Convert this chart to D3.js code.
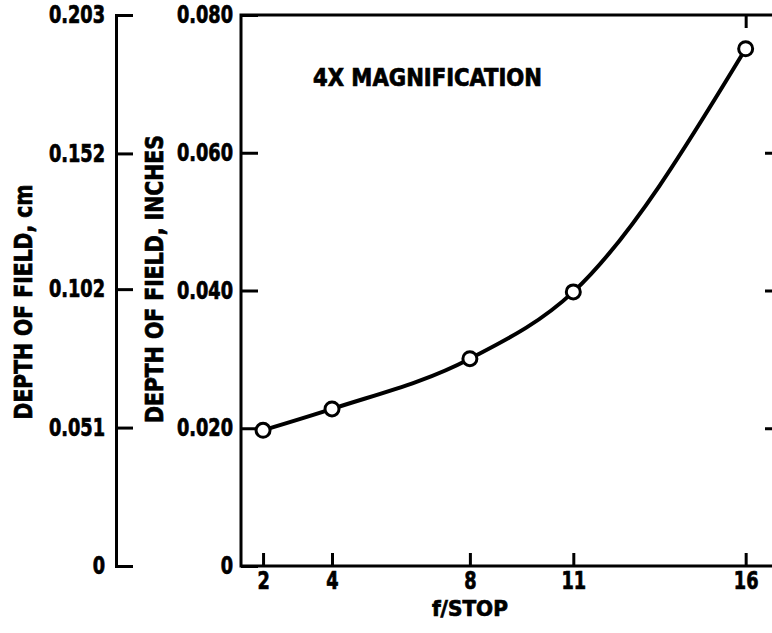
<!DOCTYPE html>
<html>
<head>
<meta charset="utf-8">
<script src="https://cdn.jsdelivr.net/npm/d3@7"></script>
<style>
  body { margin: 0; background: #fff; }
  svg text { font-family: 'DejaVu Sans Condensed', 'Liberation Sans Narrow', sans-serif; font-weight: bold; fill: #000; stroke: #000; stroke-width: 0.7px; }
</style>
</head>
<body>
<div class="content"></div>
<script>
var fStops = [2, 4, 8, 11, 16];
var depthInches = [0.0197, 0.0228, 0.0301, 0.0398, 0.0751];
var inchTicks = [0, 0.020, 0.040, 0.060, 0.080];
var cmTicks = [0, 0.051, 0.102, 0.152, 0.203];
var title = '4X MAGNIFICATION';

var chart = {
    width: 772,
    height: 633,
    top: 15,
    bottom: 566,
    cmAxisX: 116,
    left: 241,
    right: 776,
    stroke: '#000',
    lineWidth: 3,
    squeeze: 0.82
};

var svg = d3.select('.content').append('svg')
    .attr('width', chart.width)
    .attr('height', chart.height);

var x = d3.scaleLinear().domain([1.36, 16.88]).range([chart.left, chart.right]);
var yIn = d3.scaleLinear().domain([0, 0.080]).range([chart.bottom, chart.top]);
var yCm = d3.scaleLinear().domain([0, 0.203]).range([chart.bottom, chart.top]);

function fmt(d) { return d === 0 ? '0' : d.toFixed(3); }

function styleAxis(g, size) {
    g.selectAll('path, line')
        .attr('stroke', chart.stroke)
        .attr('stroke-width', chart.lineWidth);
    g.selectAll('text')
        .style('font-size', size + 'px')
        .attr('fill', '#000');
}

// cm axis (far left)
svg.append('g')
    .attr('transform', 'translate(' + chart.cmAxisX + ',0)')
    .call(d3.axisLeft(yCm).tickValues(cmTicks).tickFormat(fmt)
        .tickSizeInner(-17).tickSizeOuter(-17).tickPadding(11))
    .call(function(g) { styleAxis(g, 24); });

// frame of the main plot
svg.append('path')
    .attr('d', 'M' + chart.right + ',' + chart.top + 'H' + chart.left + 'V' + chart.bottom + 'H' + chart.right)
    .attr('fill', 'none')
    .attr('stroke', chart.stroke)
    .attr('stroke-width', chart.lineWidth);

// inches axis
svg.append('g')
    .attr('transform', 'translate(' + chart.left + ',0)')
    .call(d3.axisLeft(yIn).tickValues(inchTicks).tickFormat(fmt)
        .tickSizeInner(-17).tickSizeOuter(0).tickPadding(8))
    .call(function(g) { g.select('.domain').remove(); styleAxis(g, 24); });

// right-hand ticks
svg.append('g')
    .attr('transform', 'translate(' + chart.right + ',0)')
    .call(d3.axisRight(yIn).tickValues([0.020, 0.040, 0.060]).tickFormat('')
        .tickSizeInner(-11).tickSizeOuter(0))
    .call(function(g) { g.select('.domain').remove(); styleAxis(g, 24); });

// f/stop axis
svg.append('g')
    .attr('transform', 'translate(0,' + chart.bottom + ')')
    .call(d3.axisBottom(x).tickValues(fStops).tickFormat(d3.format('d'))
        .tickSizeInner(-13).tickSizeOuter(0).tickPadding(6))
    .call(function(g) { g.select('.domain').remove(); styleAxis(g, 24); });

svg.append('g')
    .attr('transform', 'translate(0,' + chart.top + ')')
    .call(d3.axisTop(x).tickValues([16]).tickFormat('')
        .tickSizeInner(-13).tickSizeOuter(0))
    .call(function(g) { g.select('.domain').remove(); styleAxis(g, 24); });

// axis titles
svg.append('text')
    .attr('transform', 'translate(32,302) rotate(-90)')
    .attr('text-anchor', 'middle')
    .attr('textLength', 235)
    .attr('lengthAdjust', 'spacingAndGlyphs')
    .style('font-size', '25px')
    .text('DEPTH OF FIELD, cm');

svg.append('text')
    .attr('transform', 'translate(163,279) rotate(-90)')
    .attr('text-anchor', 'middle')
    .attr('textLength', 288)
    .attr('lengthAdjust', 'spacingAndGlyphs')
    .style('font-size', '25px')
    .text('DEPTH OF FIELD, INCHES');

svg.append('text')
    .attr('x', x(8))
    .attr('y', 616)
    .attr('text-anchor', 'middle')
    .attr('textLength', 76)
    .attr('lengthAdjust', 'spacingAndGlyphs')
    .style('font-size', '21px')
    .text('f/STOP');

svg.append('text')
    .attr('x', 313)
    .attr('y', 86)
    .attr('textLength', 229)
    .attr('lengthAdjust', 'spacingAndGlyphs')
    .style('font-size', '24px')
    .text(title);

// narrow the remaining labels to the condensed look of the original
svg.selectAll('text').each(function() {
    if (this.getAttribute('textLength')) return;
    var len = this.getComputedTextLength();
    d3.select(this)
        .attr('textLength', len * chart.squeeze)
        .attr('lengthAdjust', 'spacingAndGlyphs');
});

// data curve
var data = fStops.map(function(f, i) { return { f: f, d: depthInches[i] }; });

var line = d3.line()
    .x(function(d) { return x(d.f); })
    .y(function(d) { return yIn(d.d); })
    .curve(d3.curveMonotoneX);

svg.append('path')
    .datum(data)
    .attr('d', line)
    .attr('fill', 'none')
    .attr('stroke', chart.stroke)
    .attr('stroke-width', 4);

svg.selectAll('circle.pt')
    .data(data)
    .enter().append('circle')
    .attr('class', 'pt')
    .attr('cx', function(d) { return x(d.f); })
    .attr('cy', function(d) { return yIn(d.d); })
    .attr('r', 7)
    .attr('fill', '#fff')
    .attr('stroke', chart.stroke)
    .attr('stroke-width', 3);
</script>
</body>
</html>
